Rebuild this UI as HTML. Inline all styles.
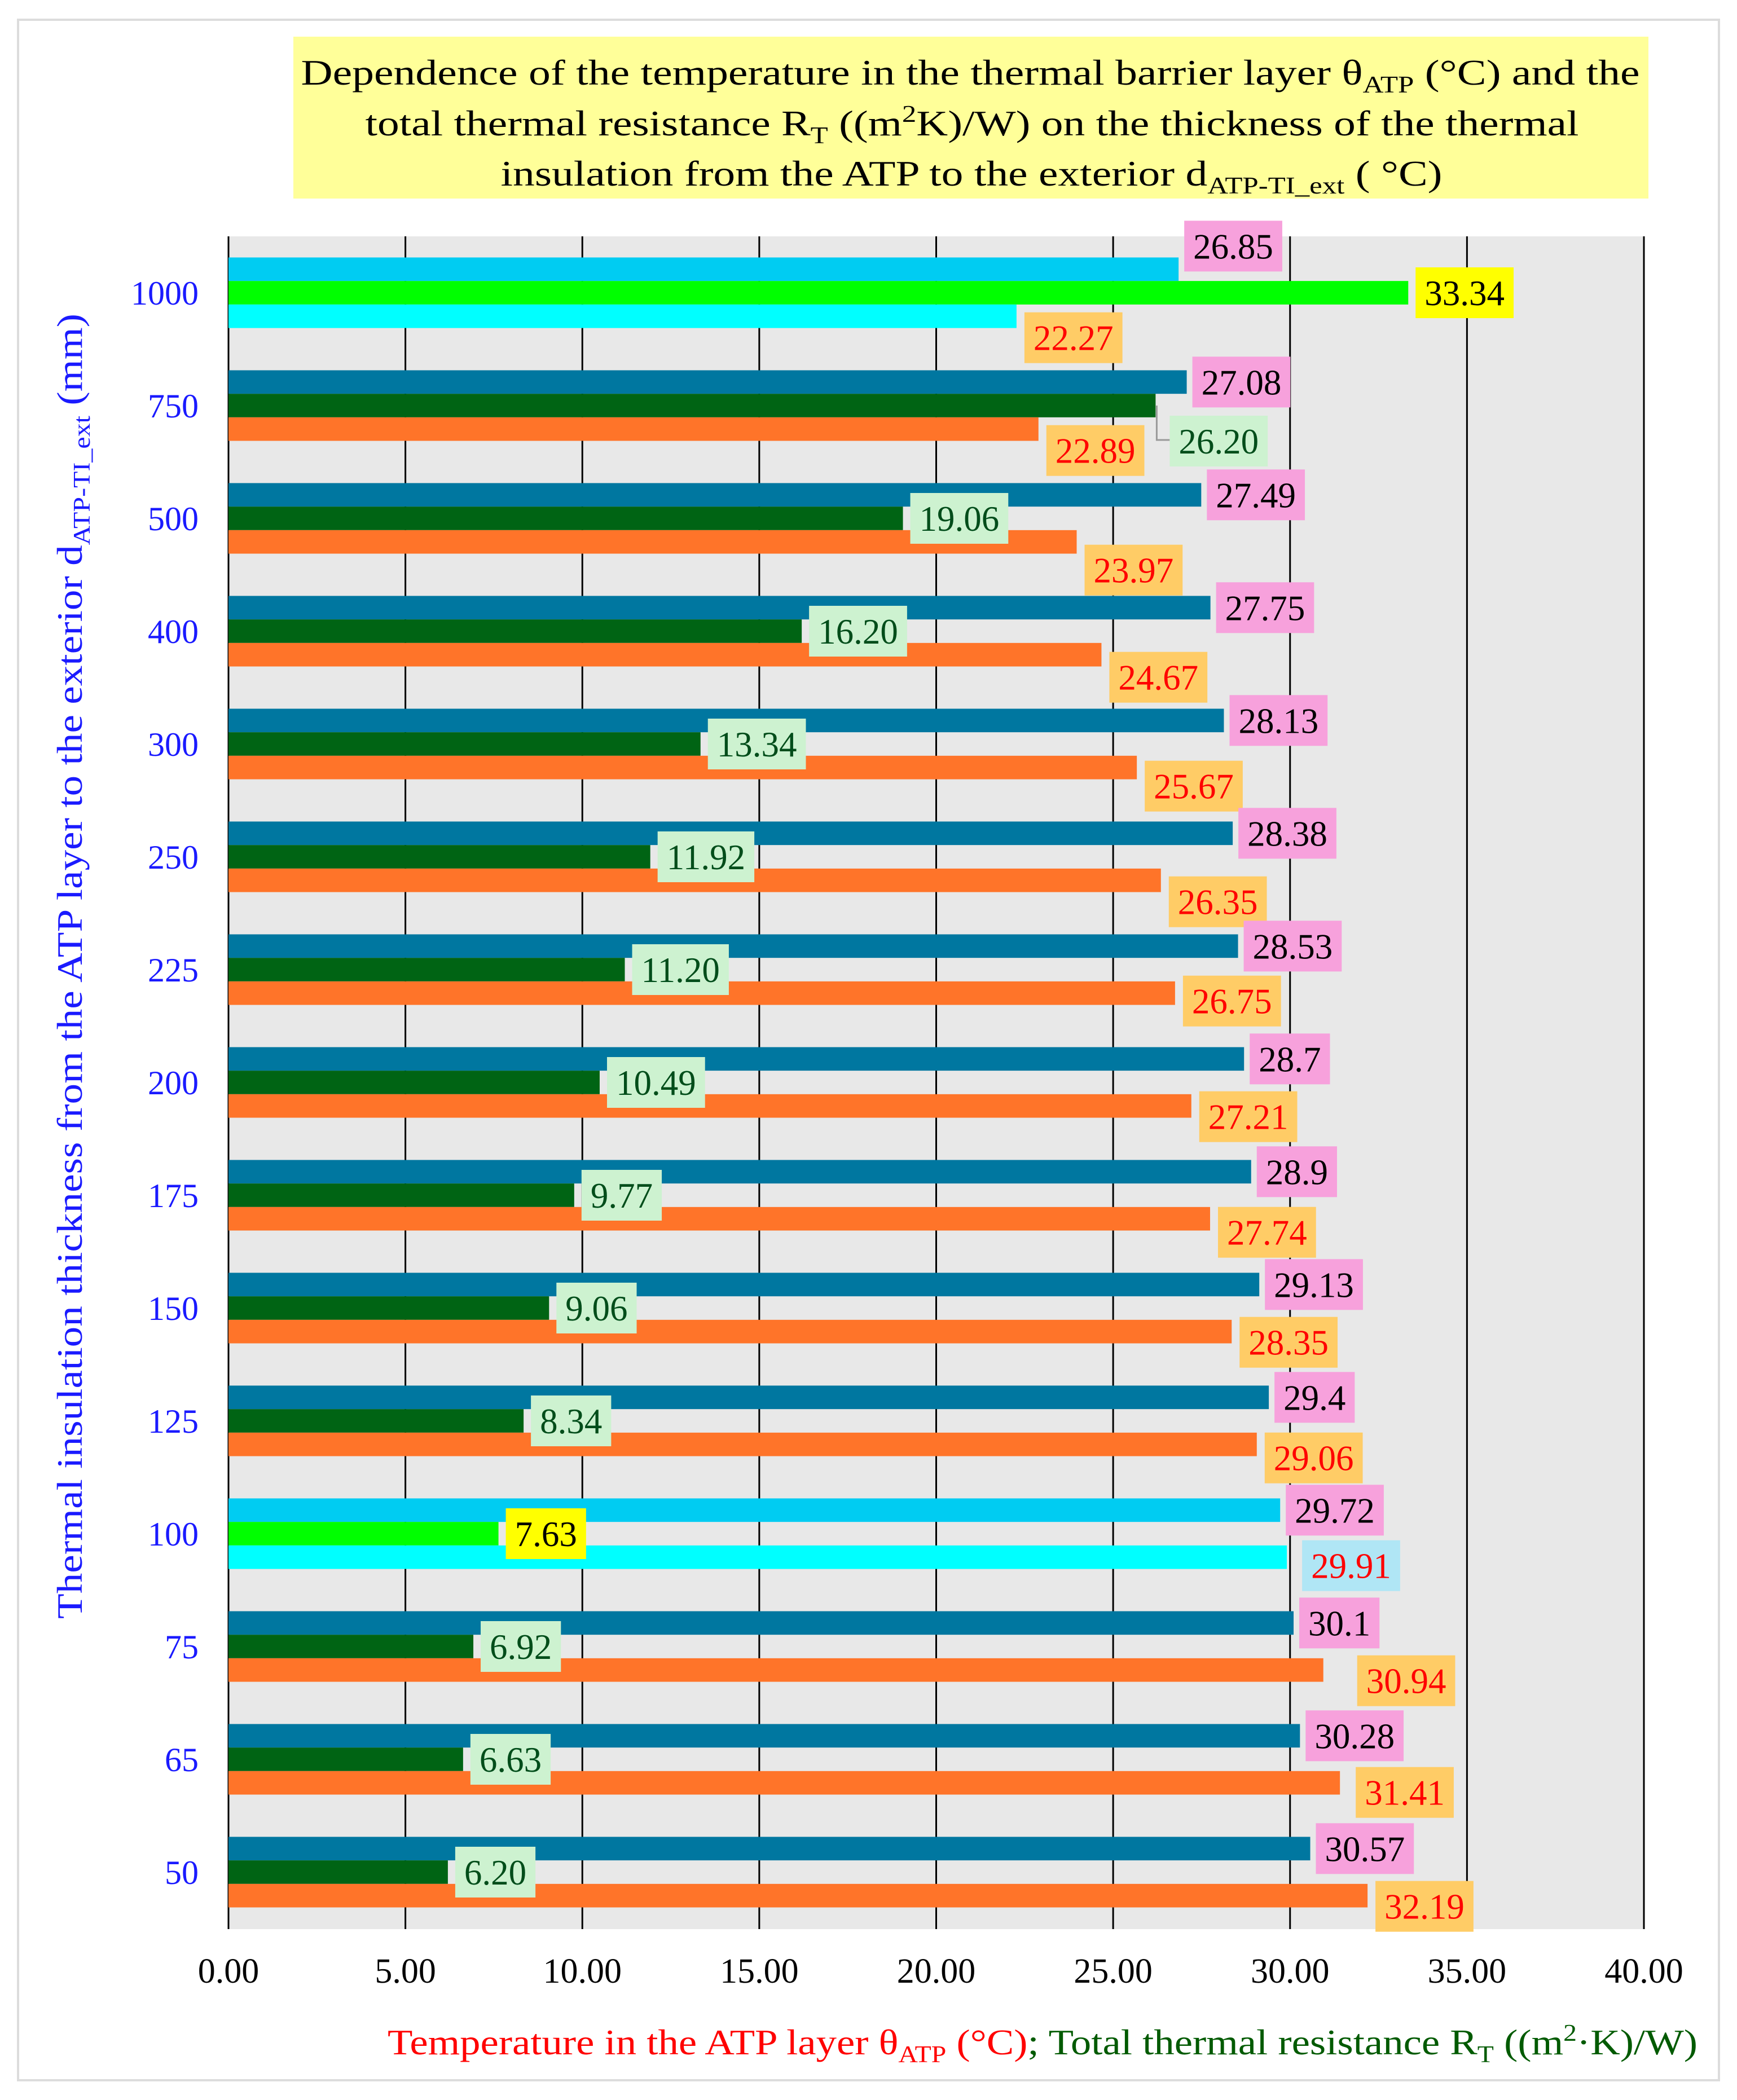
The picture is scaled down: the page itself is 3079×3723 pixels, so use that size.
<!DOCTYPE html>
<html><head><meta charset="utf-8"><style>
html,body{margin:0;padding:0;background:#fff;}
svg{display:block;font-family:"Liberation Serif",serif;}
</style></head><body>
<svg id="chart" width="3079" height="3723" viewBox="0 0 3079 3723" xmlns="http://www.w3.org/2000/svg">
<rect x="32" y="35" width="3015" height="3653" fill="#fff" stroke="#dcdcdc" stroke-width="4"/>
<rect x="520" y="65" width="2402" height="287" fill="#ffff99"/>
<g font-size="64" fill="#000" text-anchor="middle">
<text x="1720" y="150" textLength="2373" lengthAdjust="spacingAndGlyphs">Dependence of the temperature in the thermal barrier layer θ<tspan font-size="42" dy="14">ATP</tspan><tspan dy="-14"> (°C) and the</tspan></text>
<text x="1723" y="240" textLength="2151" lengthAdjust="spacingAndGlyphs">total thermal resistance R<tspan font-size="42" dy="14">T</tspan><tspan dy="-14"> ((m</tspan><tspan font-size="42" dy="-24">2</tspan><tspan dy="24">K)/W) on the thickness of the thermal</tspan></text>
<text x="1722" y="329" textLength="1669" lengthAdjust="spacingAndGlyphs">insulation from the ATP to the exterior d<tspan font-size="42" dy="14">ATP-TI_ext</tspan><tspan dy="-14"> ( °C)</tspan></text>
</g>
<rect x="405" y="419" width="2509" height="3001" fill="#e8e8e8"/>
<g id="grid"></g>
<g id="bars"></g>
<g id="labels"></g>
<g id="yticks"></g>
<g id="xticks"></g>
<text transform="translate(145,1713) rotate(-90)" font-size="64" fill="#1a1aff" text-anchor="middle" textLength="2314" lengthAdjust="spacingAndGlyphs">Thermal insulation thickness from the ATP layer  to the exterior d<tspan font-size="42" dy="14">ATP-TI_ext</tspan><tspan dy="-14"> (mm)</tspan></text>
<text x="687" y="3642" font-size="64" textLength="2322" lengthAdjust="spacingAndGlyphs"><tspan fill="#ff0000">Temperature in the ATP layer θ</tspan><tspan fill="#ff0000" font-size="42" dy="14">ATP</tspan><tspan fill="#ff0000" dy="-14"> (°C)</tspan><tspan fill="#005a00">; Total thermal resistance R</tspan><tspan fill="#005a00" font-size="42" dy="14">T</tspan><tspan fill="#005a00" dy="-14"> ((m</tspan><tspan fill="#005a00" font-size="42" dy="-24">2</tspan><tspan fill="#005a00" dy="24">·K)/W)</tspan></text>
</svg>
<script>
const categories = ["1000","750","500","400","300","250","225","200","175","150","125","100","75","65","50"];
const topValues = [26.85,27.08,27.49,27.75,28.13,28.38,28.53,28.7,28.9,29.13,29.4,29.72,30.1,30.28,30.57];
const midValues = [33.34,26.20,19.06,16.20,13.34,11.92,11.20,10.49,9.77,9.06,8.34,7.63,6.92,6.63,6.20];
const botValues = [22.27,22.89,23.97,24.67,25.67,26.35,26.75,27.21,27.74,28.35,29.06,29.91,30.94,31.41,32.19];
const midLabels = ["33.34","26.20","19.06","16.20","13.34","11.92","11.20","10.49","9.77","9.06","8.34","7.63","6.92","6.63","6.20"];
const xTicks = [0,5,10,15,20,25,30,35,40];

const NS="http://www.w3.org/2000/svg";
const X0=405, X1=2914, XMAX=40, Y0=419, BAND=200, BH=41.7;
function xs(v){return X0+(X1-X0)*v/XMAX;}
function yc(i){return Y0+(i+0.5)*BAND;}
function mk(tag,attrs,parent){const e=document.createElementNS(NS,tag);for(const k in attrs)e.setAttribute(k,attrs[k]);parent.appendChild(e);return e;}
const special=[0,11];
// label layout tweaks (pixel offsets for label placement)
const botDy=[38,38,50,40,33,38,14,19,24,19,24,15,19,17,19];
const botGap=[14,14,14,14,14,14,14,14,14,14,14,27,60,28,14];

const grid=document.getElementById('grid');
xTicks.forEach(t=>{
  const l=mk('line',{x1:xs(t),x2:xs(t),y1:Y0,y2:3420,stroke:'#000','stroke-width':3},grid);
  
  
  const tx=mk('text',{x:xs(t),y:3515,'font-size':62,'text-anchor':'middle',fill:'#000'},document.getElementById('xticks'));
  tx.textContent=t.toFixed(2);
  
  
});

const bars=document.getElementById('bars'), labels=document.getElementById('labels');
function box(x,cy,txt,bg,fg,name){
  const g=mk('g',{},labels);
  
  
  const r=mk('rect',{x:x,y:cy-45,height:90,width:10,fill:bg},g);
  const t=mk('text',{x:x+16,y:cy+22,'font-size':63,fill:fg},g);
  t.textContent=txt;
  let w=t.getComputedTextLength?t.getComputedTextLength():txt.length*30;
  r.setAttribute('width',w+32);
}
categories.forEach((c,i)=>{
  const cy=yc(i), sp=special.includes(i);
  const yt=mk('text',{x:352,y:cy+21,'font-size':60,'text-anchor':'end',fill:'#1a1aff'},document.getElementById('yticks'));
  yt.textContent=c;
  
  
  const b1=mk('rect',{x:X0,y:cy-1.5*BH,width:xs(topValues[i])-X0,height:BH,fill:sp?'#00ccf2':'#0077a0'},bars);
  
  
  const b2=mk('rect',{x:X0,y:cy-0.5*BH,width:xs(midValues[i])-X0,height:BH,fill:sp?'#00ff00':'#006414'},bars);
  
  
  const b3=mk('rect',{x:X0,y:cy+0.5*BH,width:xs(botValues[i])-X0,height:BH,fill:sp?'#00ffff':'#ff7429'},bars);
  
  
  // labels
  box(xs(topValues[i])+10, cy-BH+(i===0?-41:0), String(topValues[i]), '#f7a1dc','#000','label-top-'+c);
  if(i===1){
    const ex=xs(midValues[i]);
    const ln=mk('polyline',{points:`${ex+2},${cy} ${ex+2},${cy+61} ${ex+25},${cy+61}`,fill:'none',stroke:'#999','stroke-width':3},labels);
    
    
    box(ex+25, cy+63, midLabels[i], '#cdf2d0','#004d1a','label-mid-'+c);
  } else {
    box(xs(midValues[i])+13, cy, midLabels[i], sp?'#ffff00':'#cdf2d0', sp?'#000':'#004d1a','label-mid-'+c);
  }
  box(xs(botValues[i])+botGap[i], cy+BH+botDy[i], botValues[i].toFixed(2), i===11?'#b0e6f5':'#ffcc66','#ff0000','label-bottom-'+c);
});
</script>
</body></html>
